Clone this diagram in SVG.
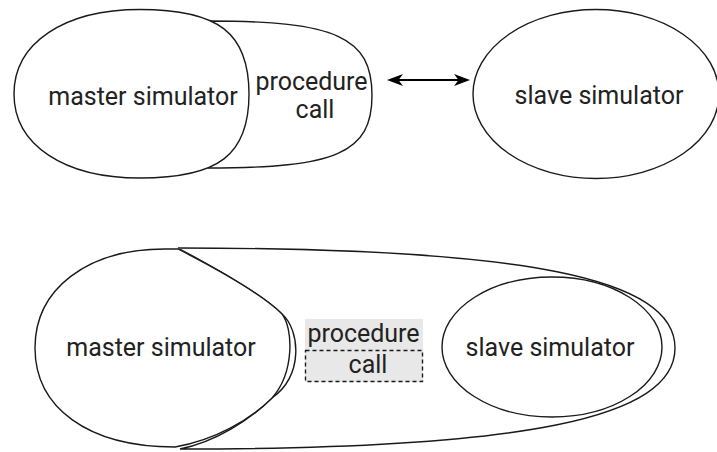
<svg xmlns="http://www.w3.org/2000/svg" width="717" height="452" viewBox="0 0 717 452">
<style>
.s{fill:#fff;stroke:#1a1a1a;stroke-width:1.4}
.t{font-family:Roboto,"Liberation Sans",sans-serif;font-size:25px;fill:#222;text-anchor:middle}
</style>
<defs>
<marker id="ah" viewBox="0 0 16 12" refX="11" refY="6" markerWidth="16" markerHeight="12" markerUnits="userSpaceOnUse" orient="auto-start-reverse">
<path d="M0,0 L16,6 L0,12 L4.5,6 Z" fill="#000"/>
</marker>
</defs>
<rect width="717" height="452" fill="#fff"/>
<g id="top-procedure-call">
<path class="s" d="M208,21 C336,21 372,37 372,95.5 C372,153 336,168 208,168 Z"/>
<text class="t" x="311.5" y="90">procedure</text>
<text class="t" x="315" y="118">call</text>
</g>
<g id="top-master">
<path class="s" d="M14,94 C14,43 64,9.5 140,9.5 C218.5,9.5 249,33 249,94 C249,155 218.5,178 140,178 C64,178 14,145 14,94 Z"/>
<text class="t" x="143" y="105">master simulator</text>
</g>
<g id="top-slave">
<ellipse class="s" cx="596" cy="94" rx="123" ry="84.5"/>
<text class="t" x="599" y="104">slave simulator</text>
</g>
<g id="connectors">
<line x1="392" y1="80" x2="465" y2="80" stroke="#000" stroke-width="2.2" marker-start="url(#ah)" marker-end="url(#ah)"/>
</g>
<g id="bottom-container">
<path class="s" d="M178,248 C526,248 675,278 675,348 C675,418 526,449 180,449 C215,442 250,420 272,398 C304,375 300,330 282,314 C262,294 215,268 178,248 Z"/>
</g>
<g id="bottom-master">
<path class="s" d="M35,348 C35,289 87,249 165,249 L178,249 C215,268 262,294 282,314 C293,328 295,372 272,398 C250,420 215,440 175,447 C87,447 35,407 35,348 Z"/>
<text class="t" x="161" y="356">master simulator</text>
</g>
<g id="bottom-slave">
<ellipse class="s" cx="552" cy="347" rx="110" ry="70"/>
<text class="t" x="550" y="356">slave simulator</text>
</g>
<g id="bottom-procedure-call">
<rect x="305" y="319" width="118" height="63" fill="#e8e8e8"/>
<rect x="305.5" y="350.5" width="117" height="31" fill="none" stroke="#1a1a1a" stroke-width="1.4" stroke-dasharray="4 3"/>
<text class="t" x="363.5" y="342">procedure</text>
<text class="t" x="368" y="373">call</text>
</g>
</svg>
